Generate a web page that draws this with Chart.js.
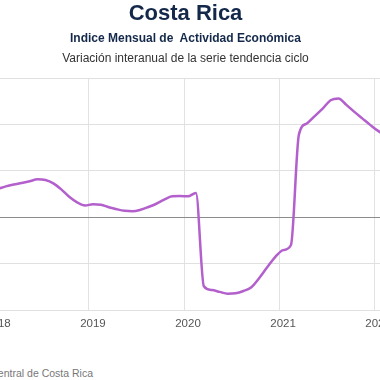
<!DOCTYPE html>
<html>
<head>
<meta charset="utf-8">
<script src="https://cdn.jsdelivr.net/npm/chart.js@4.4.1/dist/chart.umd.min.js"></script>
<style>
  html, body { margin: 0; padding: 0; width: 380px; height: 380px; overflow: hidden; background: #ffffff; }
  #wrap { position: relative; width: 380px; height: 380px; overflow: hidden; }
  .t { position: absolute; left: 0; width: 371px; text-align: center; white-space: pre; line-height: 1; font-family: "Liberation Sans", Arial, sans-serif; }
  #title { top: 2px; font-size: 22px; font-weight: bold; color: #14284a; }
  #sub1 { top: 31.5px; font-size: 12px; font-weight: bold; color: #14284a; }
  #sub2 { top: 52px; font-size: 12px; color: #333333; }
  #src { position: absolute; top: 368px; right: 287px; white-space: pre; line-height: 1; font-family: "Liberation Sans", Arial, sans-serif; font-size: 10.5px; color: #777777; text-align: right; }
  #c { position: absolute; left: -22px; top: 0; }
</style>
</head>
<body>
<div id="wrap">
  <canvas id="c" width="415" height="340"></canvas>
  <div class="t" id="title">Costa Rica</div>
  <div class="t" id="sub1">Indice Mensual de  Actividad Económica</div>
  <div class="t" id="sub2">Variación interanual de la serie tendencia ciclo</div>
  <div id="src">Fuente: Banco Central de Costa Rica</div>
</div>
<script>
// Months (categories)
const months = [
  "2018-01","2018-02","2018-03","2018-04","2018-05","2018-06","2018-07","2018-08","2018-09","2018-10","2018-11","2018-12",
  "2019-01","2019-02","2019-03","2019-04","2019-05","2019-06","2019-07","2019-08","2019-09","2019-10","2019-11","2019-12",
  "2020-01","2020-02","2020-03","2020-04","2020-05","2020-06","2020-07","2020-08","2020-09","2020-10","2020-11","2020-12",
  "2021-01","2021-02","2021-03","2021-04","2021-05","2021-06","2021-07","2021-08","2021-09","2021-10","2021-11","2021-12",
  "2022-01","2022-02"
];
// Interannual variation of the trend-cycle series (%)
const imae = [
  3.05, 3.32, 3.52, 3.68, 3.87, 4.08, 4.00, 3.65, 3.00, 2.20, 1.60, 1.25,
  1.40, 1.35, 1.08, 0.86, 0.69, 0.64, 0.80, 1.10, 1.45, 1.90, 2.25, 2.28,
  2.25, 2.62, -7.45, -7.85, -8.05, -8.25, -8.20, -7.95, -7.55, -6.55, -5.40, -4.30,
  -3.55, -3.00, 8.90, 10.10, 10.90, 11.70, 12.60, 12.80, 12.10, 11.35, 10.65, 9.95,
  9.30, 8.80
];
// Tick labels
const yTicks = [-10, -5, 0, 5, 10, 15];

new Chart(document.getElementById('c'), {
  type: 'line',
  data: {
    labels: months,
    datasets: [{
      label: 'IMAE',
      data: imae,
      borderColor: '#b35fcc',
      borderWidth: 2.5,
      pointRadius: 0,
      pointHoverRadius: 0,
      fill: false,
      cubicInterpolationMode: 'monotone'
    }]
  },
  options: {
    responsive: false,
    animation: false,
    devicePixelRatio: 1,
    layout: { padding: { top: 78, left: 0, right: 0, bottom: 0 } },
    plugins: { legend: { display: false }, title: { display: false }, tooltip: { enabled: false } },
    scales: {
      x: {
        type: 'category',
        offset: true,
        grid: {
          offset: true,
          drawTicks: false,
          lineWidth: 1,
          color: (ctx) => {
            const m = months[ctx.index];
            return (m && m.endsWith('-01')) ? '#e2e2e2' : 'rgba(0,0,0,0)';
          }
        },
        border: { display: false },
        ticks: {
          autoSkip: false,
          maxRotation: 0,
          minRotation: 0,
          padding: 7,
          color: '#555555',
          font: { family: '"Liberation Sans", Arial, sans-serif', size: 11.5 },
          callback: function(value, index) {
            const m = months[index];
            return m.endsWith('-01') ? m.slice(0, 4) : '';
          }
        },
        afterFit: (scale) => { scale.height = 30; }
      },
      y: {
        min: yTicks[0],
        max: yTicks[yTicks.length - 1],
        afterBuildTicks: (scale) => { scale.ticks = yTicks.map(v => ({ value: v })); },
        grid: {
          drawTicks: false,
          lineWidth: 1,
          color: (ctx) => (ctx.tick && ctx.tick.value === 0) ? '#8c8c8c' : '#e0e0e0'
        },
        border: { display: false },
        ticks: { display: false },
        afterFit: (scale) => { scale.width = 15; }
      }
    }
  }
});
</script>
</body>
</html>
